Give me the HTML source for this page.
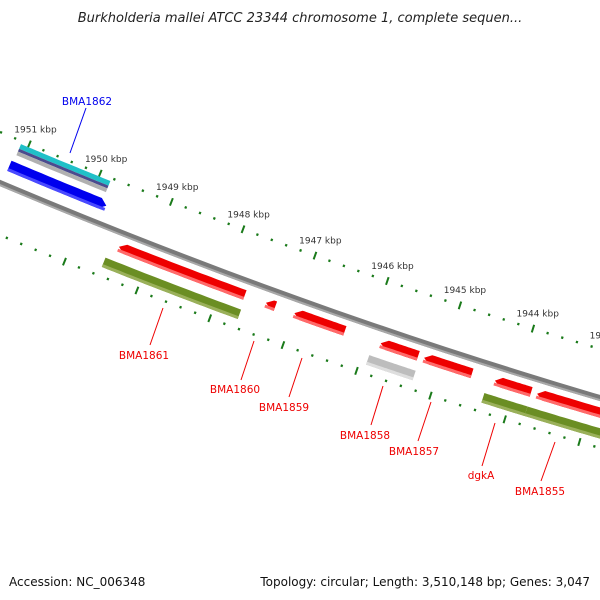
<!DOCTYPE html>
<html><head><meta charset="utf-8"><style>
html,body{margin:0;padding:0;background:#fff;}
svg{display:block;font-family:"DejaVu Sans","Liberation Sans",sans-serif;}
</style></head><body>
<svg id="map" width="600" height="600" viewBox="0 0 600 600">
<text x="300" y="22" text-anchor="middle" font-size="13" font-style="italic" fill="#222">Burkholderia mallei ATCC 23344 chromosome 1, complete sequen...</text>
<text x="9" y="586" font-size="12" fill="#111">Accession: NC_006348</text>
<text x="590" y="586" text-anchor="end" font-size="12" fill="#111">Topology: circular; Length: 3,510,148 bp; Genes: 3,047</text>
<g id="layer"></g>
</svg>
<script>
// gene data
const geneNames = ["BMA1862","BMA1862-cds","BMA1861","BMA1861-cds","BMA1860","BMA1859","BMA1858","BMA1858-cds","BMA1857","dgkA","dgkA-cds","BMA1855","BMA1855-cds"];
const geneStarts = [1951.13,1951.10,1949.51,1949.53,1947.48,1947.09,1945.91,1945.91,1945.32,1944.36,1944.35,1943.79,1943.77];
const geneEnds = [1949.86,1949.84,1947.68,1947.66,1947.26,1946.31,1945.31,1945.28,1944.58,1943.78,1943.77,1942.3,1942.3];
const geneRings = ["blue","teal","red","green","red","red","red","gray","red","red","green","red","green"];
const tickKbp = [1952,1951,1950,1949,1948,1947,1946,1945,1944,1943,1942];
const labelNames = ["BMA1862","BMA1861","BMA1860","BMA1859","BMA1858","BMA1857","dgkA","BMA1855"];
const labelKbp = [1950.3,1948.85,1947.35,1946.7,1945.6,1945.0,1944.05,1943.2];

const NS="http://www.w3.org/2000/svg";
const layer=document.getElementById('layer');
function fy(x){return 183+0.4229*x-0.0001076*x*x;}
function fm(x){return 0.4229-2*0.0001076*x;}
const xs=[],ss=[];let acc=0;
for(let x=-150;x<=750;x+=0.5){if(xs.length){const m=fm(x-0.25);acc+=0.5*Math.sqrt(1+m*m);}xs.push(x);ss.push(acc);}
function sOf(x){const i=Math.round((x+150)*2);return ss[i];}
const sA=sOf(82.5),sB=sOf(519);
function xOfK(k){const s=sA+(1950-k)/6*(sB-sA);let lo=0,hi=ss.length-1;while(hi-lo>1){const mid=(lo+hi)>>1;if(ss[mid]<s)lo=mid;else hi=mid;}const t=(s-ss[lo])/(ss[hi]-ss[lo]||1);return xs[lo]+t*0.5;}
function pt(k,d){const x=xOfK(k),y=fy(x),m=fm(x),L=Math.sqrt(1+m*m);return [x-m/L*d,y+d/L];}
function band(k1,k2,d1,d2,head,dir){ // head in kbp, dir: -1 tip at k1 (left), 1 tip at k2 (right)
 const P=[];const n=24;let a=k1,b=k2;
 if(head&&dir<0)a=k1-head; if(head&&dir>0)b=k2+head;
 for(let i=0;i<=n;i++)P.push(pt(a+(b-a)*i/n,d1));
 if(head&&dir>0)P.push(pt(k2,(d1+d2)/2));
 for(let i=n;i>=0;i--)P.push(pt(a+(b-a)*i/n,d2));
 if(head&&dir<0)P.push(pt(k1,(d1+d2)/2));
 return P.map(p=>p[0].toFixed(1)+','+p[1].toFixed(1)).join(' ');
}
function poly(points,fill,name){const e=document.createElementNS(NS,'polygon');e.setAttribute('points',points);e.setAttribute('fill',fill);


layer.appendChild(e);return e;}
// tick rings
tickKbp.forEach((k,i)=>{
 for(let j=0;j<5;j++){const kk=k-j*0.2;[-47,48].forEach(d=>{
  const major=j===0;const len=major?4:1.2;
  const a=pt(kk,d-len),b=pt(kk,d+len);
  const l=document.createElementNS(NS,'line');l.setAttribute('x1',a[0]);l.setAttribute('y1',a[1]);l.setAttribute('x2',b[0]);l.setAttribute('y2',b[1]);
  l.setAttribute('stroke','#1a7a1a');l.setAttribute('stroke-width',major?2:2.2);
  
  
  layer.appendChild(l);});}
 const p=pt(k,-63);const t=document.createElementNS(NS,'text');t.setAttribute('x',p[0]);t.setAttribute('y',p[1]+3);t.setAttribute('text-anchor','middle');t.setAttribute('font-size','9');t.setAttribute('fill','#333');t.textContent=k+' kbp';
 
 
 layer.appendChild(t);
});
// backbone
poly(band(1953,1941,-3,3,0,0),'#7a7a7a','backbone');
poly(band(1953,1941,1,3,0,0),'#a8a8a8','backbone-highlight');
// genes
const ringD={blue:[-25,-14],teal:[-44,-30],red:[9,19],green:[29,39],gray:[29,39]};
const ringC={blue:['#0000ee','#4a4aff'],red:['#ee0000','#ff6a6a'],green:['#6b8e23','#9ab05a'],gray:['#bdbdbd','#dedede']};
geneRings.forEach((r,i)=>{
 const k1=geneStarts[i],k2=geneEnds[i],d=ringD[r];
 if(r==='teal'){
  poly(band(k1,k2,-44,-39,0,0),'#20c0c8','gene-'+geneNames[i]+'-teal');
  poly(band(k1,k2,-39,-36,0,0),'#4b4b8e','gene-'+geneNames[i]+'-purple');
  poly(band(k1,k2,-36,-32,0,0),'#b0b0b0','gene-'+geneNames[i]+'-gray');
  return;}
 const head=(r==='red')?0.09:(r==='blue'?0.09:0);
 const dir=(r==='blue')?1:-1;
 const h=head?head:0;
 poly(band(dir<0?k1-0:k1,dir>0?k2:k2,d[0],d[1],0,0),'none','x').remove();
 poly(band(dir<0?k1-h+h:k1, k2, d[0],d[1],0,0),'none','x').remove();
 const a=dir<0?k1-h:k1, b=dir>0?k2-h:k2;
 poly(band(dir<0?k1-h:k1,dir>0?k2-h:k2,d[0],d[1],h,dir).replace(/NaN/g,'0'),ringC[r][0],'gene-'+geneNames[i]);
 poly(band(a,b,d[1]-3,d[1],0,0),ringC[r][1],'gene-'+geneNames[i]+'-shade');
});
// labels
const labelColors=["#0000ee","#ee0000","#ee0000","#ee0000","#ee0000","#ee0000","#ee0000","#ee0000"];
const labelPos=[[86,108,70,153,87,105],[163,308,150,345,144,359],[254,341,241,380,235,393],[302,358,289,397,284,411],[383,386,371,425,365,439],[431,402,418,441,414,455],[495,423,482,466,481,479],[555,442,541,481,540,495]];
labelNames.forEach((n,i)=>{
 const q=labelPos[i];
 const l=document.createElementNS(NS,'line');l.setAttribute('x1',q[0]);l.setAttribute('y1',q[1]);l.setAttribute('x2',q[2]);l.setAttribute('y2',q[3]);l.setAttribute('stroke',labelColors[i]);l.setAttribute('stroke-width','1');
 
 
 layer.appendChild(l);
 const t=document.createElementNS(NS,'text');t.setAttribute('x',q[4]);t.setAttribute('y',q[5]);t.setAttribute('text-anchor','middle');t.setAttribute('font-size','10.5');t.setAttribute('fill',labelColors[i]);t.textContent=n;
 
 
 layer.appendChild(t);
});
</script>
</body></html>
